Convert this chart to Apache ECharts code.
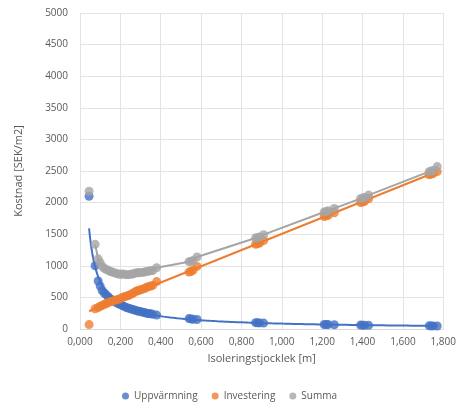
<!DOCTYPE html>
<html>
<head>
<meta charset="utf-8">
<script src="https://cdn.jsdelivr.net/npm/echarts@6/dist/echarts.min.js"></script>
<style>
  html, body { margin: 0; padding: 0; background: #fff; }
  #chart { width: 459px; height: 409px; }
</style>
</head>
<body>
<div id="chart"></div>
<script>
// Insulation thickness [m]
const thickness = [0.045, 0.075, 0.09, 0.10, 0.11, 0.12, 0.13, 0.14, 0.15, 0.16, 0.17, 0.18, 0.19, 0.20, 0.21, 0.22, 0.23, 0.24, 0.25, 0.26, 0.27, 0.28, 0.29, 0.30, 0.31, 0.32, 0.33, 0.34, 0.35, 0.36, 0.38, 0.54, 0.55, 0.56, 0.58, 0.87, 0.88, 0.89, 0.91, 1.21, 1.22, 1.23, 1.26, 1.39, 1.40, 1.41, 1.43, 1.73, 1.74, 1.75, 1.77];
// Heating cost [SEK/m2]
const uppvarmning = [2100, 1000, 760, 680, 610, 570, 540, 510, 480, 460, 440, 420, 400, 385, 370, 355, 340, 330, 320, 310, 300, 290, 280, 275, 265, 260, 250, 245, 240, 235, 220, 165, 160, 155, 150, 100, 98, 96, 93, 72, 71, 70, 68, 62, 61, 60, 59, 50, 49, 49, 48];
// Investment cost [SEK/m2]
const investering = [70, 320, 340, 360, 370, 390, 400, 420, 430, 440, 450, 460, 470, 480, 500, 510, 520, 530, 545, 560, 580, 600, 610, 620, 630, 640, 660, 670, 680, 690, 750, 900, 910, 930, 990, 1340, 1350, 1360, 1400, 1780, 1790, 1800, 1840, 2000, 2010, 2020, 2060, 2440, 2450, 2460, 2490];
// Total cost [SEK/m2]
const summa = [2180, 1340, 1110, 1050, 990, 960, 940, 930, 910, 900, 890, 880, 870, 865, 870, 865, 860, 860, 865, 870, 880, 890, 890, 895, 895, 900, 910, 915, 920, 925, 970, 1065, 1070, 1085, 1140, 1440, 1448, 1456, 1493, 1852, 1861, 1870, 1908, 2062, 2071, 2080, 2119, 2490, 2499, 2509, 2570];

const seriesNames = ['Uppvärmning', 'Investering', 'Summa'];
const colors = ['#4472C4', '#ED7D31', '#A5A5A5'];

const pairs = ys => thickness.map((x, i) => [x, ys[i]]);

// Power trendline y = a * x^b (least squares in log-log space)
function powerFit(xs, ys) {
  const n = xs.length;
  let sx = 0, sy = 0, sxx = 0, sxy = 0;
  for (let i = 0; i < n; i++) {
    const lx = Math.log(xs[i]), ly = Math.log(ys[i]);
    sx += lx; sy += ly; sxx += lx * lx; sxy += lx * ly;
  }
  const b = (n * sxy - sx * sy) / (n * sxx - sx * sx);
  const a = Math.exp((sy - b * sx) / n);
  return x => a * Math.pow(x, b);
}
// Linear trendline y = k * x + m
function linearFit(xs, ys) {
  const n = xs.length;
  let sx = 0, sy = 0, sxx = 0, sxy = 0;
  for (let i = 0; i < n; i++) {
    sx += xs[i]; sy += ys[i]; sxx += xs[i] * xs[i]; sxy += xs[i] * ys[i];
  }
  const k = (n * sxy - sx * sy) / (n * sxx - sx * sx);
  const m = (sy - k * sx) / n;
  return x => k * x + m;
}

const xMin = Math.min(...thickness), xMax = Math.max(...thickness);
function sampleCurve(f) {
  const pts = [];
  const steps = 200;
  for (let i = 0; i <= steps; i++) {
    const x = xMin * Math.pow(xMax / xMin, i / steps);
    pts.push([x, f(x)]);
  }
  return pts;
}

const heatTrend = sampleCurve(powerFit(thickness, uppvarmning));
const investFn = linearFit(thickness, investering);
const investTrend = [[xMin, investFn(xMin)], [xMax, investFn(xMax)]];
const sumLine = pairs(summa).slice(1);

const font = 'Open Sans, Liberation Sans, sans-serif';
const textColor = '#595959';

const chart = echarts.init(document.getElementById('chart'), null, { renderer: 'canvas' });
chart.setOption({
  animation: false,
  grid: { left: 80, right: 14, top: 13, bottom: 80 },
  legend: {
    bottom: 3,
    left: 'center',
    data: seriesNames,
    icon: 'circle',
    itemWidth: 7,
    itemHeight: 7,
    itemGap: 14,
    textStyle: { color: textColor, fontFamily: font, fontSize: 10 }
  },
  xAxis: {
    type: 'value',
    min: 0,
    max: 1.8,
    interval: 0.2,
    name: 'Isoleringstjocklek [m]',
    nameLocation: 'middle',
    nameGap: 24,
    nameTextStyle: { color: textColor, fontFamily: font, fontSize: 11 },
    axisLine: { show: true, lineStyle: { color: '#d9d9d9' } },
    axisTick: { show: false },
    axisLabel: {
      color: textColor, fontFamily: font, fontSize: 10, margin: 8,
      formatter: v => v.toFixed(3).replace('.', ',')
    },
    splitLine: { show: true, lineStyle: { color: '#e3e3e3', width: 1 } }
  },
  yAxis: {
    type: 'value',
    min: 0,
    max: 5000,
    interval: 500,
    name: 'Kostnad [SEK/m2]',
    nameLocation: 'middle',
    nameGap: 56,
    nameRotate: 90,
    nameTextStyle: { color: textColor, fontFamily: font, fontSize: 11 },
    axisLine: { show: false },
    axisTick: { show: false },
    axisLabel: { color: textColor, fontFamily: font, fontSize: 10, margin: 12, formatter: v => String(v) },
    splitLine: { show: true, lineStyle: { color: '#e3e3e3', width: 1 } }
  },
  series: [
    {
      name: seriesNames[0], type: 'scatter', data: pairs(uppvarmning),
      symbolSize: 9, itemStyle: { color: colors[0] }, z: 3
    },
    {
      name: seriesNames[1], type: 'scatter', data: pairs(investering),
      symbolSize: 9, itemStyle: { color: colors[1] }, z: 3
    },
    {
      name: seriesNames[2], type: 'scatter', data: pairs(summa),
      symbolSize: 9, itemStyle: { color: colors[2] }, z: 3
    },
    {
      name: 'trend-heat', type: 'line', data: heatTrend, showSymbol: false, silent: true,
      lineStyle: { color: colors[0], width: 2 }, z: 2
    },
    {
      name: 'trend-invest', type: 'line', data: investTrend, showSymbol: false, silent: true,
      lineStyle: { color: colors[1], width: 2 }, z: 2
    },
    {
      name: 'line-sum', type: 'line', data: sumLine, showSymbol: false, silent: true,
      lineStyle: { color: colors[2], width: 2 }, z: 2
    }
  ]
});
</script>
</body>
</html>
